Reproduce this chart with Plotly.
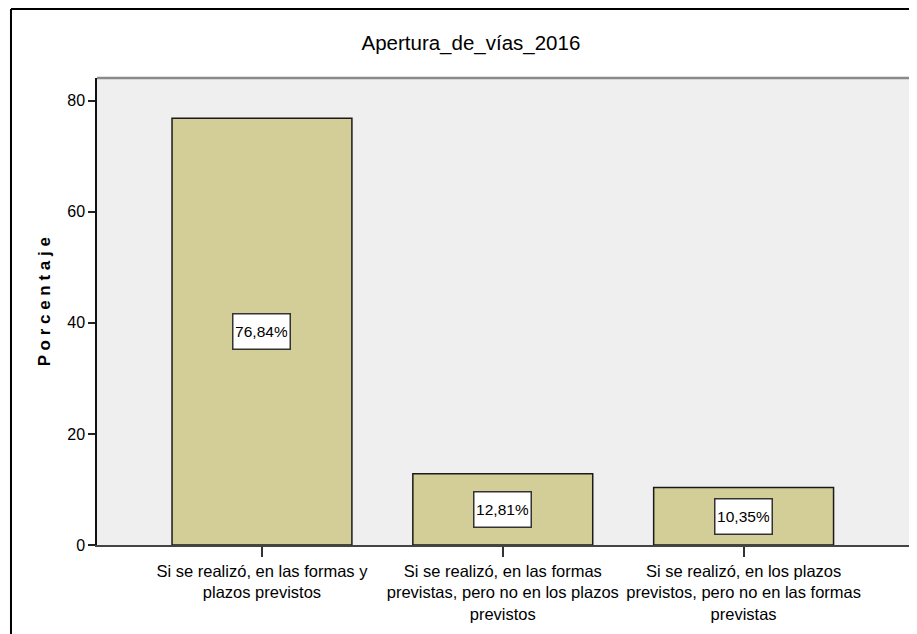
import plotly.graph_objects as go

categories = [
    "Si se realizó, en las formas y<br>plazos previstos",
    "Si se realizó, en las formas<br>previstas, pero no en los plazos<br>previstos",
    "Si se realizó, en los plazos<br>previstos, pero no en las formas<br>previstas",
]
values = [76.84, 12.81, 10.35]
value_labels = ["76,84%", "12,81%", "10,35%"]
y_ticks = [0, 20, 40, 60, 80]

FONT = "Liberation Sans, Arial, sans-serif"

fig = go.Figure()
fig.add_trace(go.Bar(
    x=[0, 1, 2], y=values, width=0.747,
    marker=dict(color="#d3ce98", line=dict(color="#1a1a1a", width=1.5)),
    hoverinfo="skip",
))

for i, (v, lab) in enumerate(zip(values, value_labels)):
    fig.add_annotation(
        x=i, y=v / 2, xref="x", yref="y", text=lab, showarrow=False,
        font=dict(family=FONT, size=15.5, color="black"),
        width=52, height=30,
        bgcolor="white", bordercolor="#333333", borderwidth=1.5, borderpad=2,
    )

# outer frame
fig.add_shape(type="line", xref="paper", yref="paper",
              x0=-0.1049, x1=1.05, y0=1.1478, y1=1.1478,
              line=dict(color="black", width=2))
fig.add_shape(type="line", xref="paper", yref="paper",
              x0=-0.1049, x1=-0.1049, y0=1.1478, y1=-0.3,
              line=dict(color="black", width=2))
# top border of plot area
fig.add_shape(type="line", xref="paper", yref="paper",
              x0=0, x1=1.05, y0=1, y1=1,
              line=dict(color="#8a8a8a", width=2.5))

# y-axis title (letter-spaced, bold)
fig.add_annotation(
    text="<b>" + " ".join("Porcentaje") + "</b>", textangle=-90,
    xref="paper", yref="paper", x=-0.0646, y=0.52,
    xanchor="center", yanchor="middle", showarrow=False,
    font=dict(family=FONT, size=17, color="black"),
)

fig.update_layout(
    width=909, height=626,
    margin=dict(l=89, r=0, t=70, b=89),
    paper_bgcolor="white", plot_bgcolor="#efefef",
    showlegend=False,
    title=dict(text="Apertura_de_vías_2016", xref="paper", x=0.456, xanchor="center",
               yref="container", y=0.944, yanchor="middle",
               font=dict(family=FONT, size=20.5, color="black")),
    xaxis=dict(
        range=[-0.685, 2.72], tickmode="array", tickvals=[0, 1, 2],
        ticktext=categories, ticks="outside", ticklen=10, tickwidth=1.5,
        tickcolor="#333333", showline=True, linecolor="#444444", linewidth=2,
        showgrid=False, zeroline=False,
        tickfont=dict(family=FONT, size=16.5, color="black"),
    ),
    yaxis=dict(
        range=[0, 84.1], tickmode="array", tickvals=y_ticks,
        ticks="outside", ticklen=7, tickwidth=1.5, tickcolor="#222222",
        showline=True, linecolor="#111111", linewidth=1.5,
        showgrid=False, zeroline=False,
        tickfont=dict(family=FONT, size=16, color="black"),
    ),
)

fig.write_html("out.html")
